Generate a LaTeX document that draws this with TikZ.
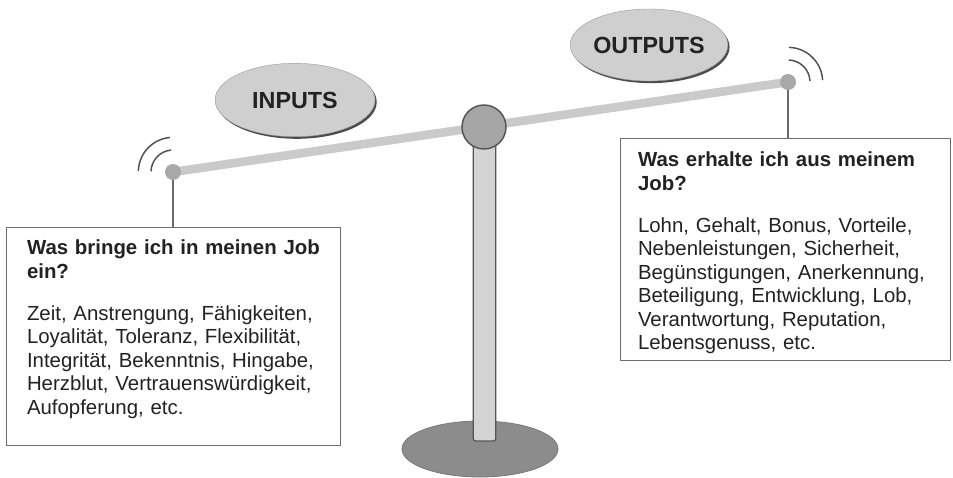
\documentclass[tikz,border=0pt]{standalone}
\usepackage{fontspec}
\setmainfont{Liberation Sans}
\usetikzlibrary{shapes.geometric,shadows,positioning}

\definecolor{ovalgray}{HTML}{CFCFCF}
\definecolor{textdark}{HTML}{222222}
\definecolor{dotgray}{HTML}{A8A8A8}
\definecolor{beamgray}{HTML}{CACACA}
\definecolor{pivotgray}{HTML}{A6A6A6}
\definecolor{postgray}{HTML}{D4D4D4}
\definecolor{postline}{HTML}{555555}
\definecolor{basegray}{HTML}{8C8C8C}
\definecolor{boxline}{HTML}{6E6E6E}
\definecolor{wavegray}{HTML}{505050}
\definecolor{hangergray}{HTML}{6A6A6A}

\begin{document}
\begin{tikzpicture}[x=0.75pt, y=-0.75pt,
    every node/.style={inner sep=0pt, outer sep=0pt},
    oval/.style={ellipse, fill=ovalgray, draw=ovalgray!75!black, line width=.3pt,
        font=\fontsize{17.5}{20}\selectfont\bfseries, text=textdark,
        drop shadow={shadow xshift=1.3pt, shadow yshift=-1.6pt, fill=black!70, opacity=1}},
    endpoint/.style={circle, fill=dotgray, minimum size=12pt},
    infobox/.style={draw=boxline, line width=.75pt, fill=white, anchor=north west},
    boxtext/.style={anchor=north west, text width=230pt, align=left, text=textdark,
        font=\fontsize{15.3}{17.6}\selectfont},
    wave/.style={draw=wavegray, line width=1.1pt},
    hanger/.style={draw=hangergray, line width=.9pt}]

    % frame
    \useasboundingbox (0,0) rectangle (953,478);

    % base and post
    \node[ellipse, fill=basegray, draw=basegray!85!black, line width=.6pt,
        minimum width=117pt, minimum height=42pt] (base) at (480,449) {};
    \node[rectangle, rounded corners=2pt, fill=postgray, draw=postline, line width=.9pt,
        minimum width=17pt, minimum height=226pt, anchor=south] (post) at (484.5,441) {};

    % beam
    \coordinate (lend) at (173,172);
    \coordinate (rend) at (788,82);
    \draw[beamgray, line width=6.5pt] (lend) -- (rend);

    % pivot
    \node[circle, fill=pivotgray, draw=postline, line width=1.1pt,
        minimum size=33pt] (pivot) at (484,127) {};

    % end points
    \node[endpoint] (ldot) at (lend) {};
    \node[endpoint] (rdot) at (rend) {};

    % waves
    \foreach \r in {16.5pt,26pt}{
        \draw[wave] (ldot.center) ++(95:\r) arc[start angle=95, end angle=178, radius=\r];
        \draw[wave] (rdot.center) ++(88:\r) arc[start angle=88, end angle=3, radius=\r];
    }

    % info boxes
    \node[infobox, minimum width=251pt, minimum height=163.5pt] (lbox) at (6,227) {};
    \node[infobox, minimum width=247.5pt, minimum height=167pt] (rbox) at (620,138) {};

    % hangers
    \draw[hanger] (ldot) -- (lbox.north -| ldot);
    \draw[hanger] (rdot) -- (rbox.north -| rdot);

    % box texts
    \node[boxtext] (ltext) at (27,240) {\textbf{Was bringe ich in meinen Job}\\
        \textbf{ein?}\\[14pt]
        Zeit, Anstrengung, Fähigkeiten,\\
        Loyalität, Toleranz, Flexibilität,\\
        Integrität, Bekenntnis, Hingabe,\\
        Herzblut, Vertrauenswürdigkeit,\\
        Aufopferung, etc.};
    \node[boxtext] (rtext) at (638,152) {\textbf{Was erhalte ich aus meinem}\\
        \textbf{Job?}\\[14pt]
        Lohn, Gehalt, Bonus, Vorteile,\\
        Nebenleistungen, Sicherheit,\\
        Begünstigungen, Anerkennung,\\
        Beteiligung, Entwicklung, Lob,\\
        Verantwortung, Reputation,\\
        Lebensgenuss, etc.};

    % labels
    \node[oval, minimum width=120pt, minimum height=55pt] (inputs) at (295,100) {INPUTS};
    \node[oval, minimum width=116pt, minimum height=54pt] (outputs) at (649,45) {OUTPUTS};
\end{tikzpicture}
\end{document}
